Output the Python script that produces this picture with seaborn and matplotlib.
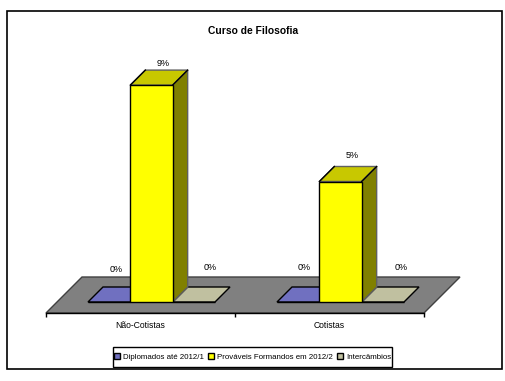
import pandas as pd
import seaborn as sns
import matplotlib
matplotlib.use('Agg')
import matplotlib.pyplot as plt
from matplotlib.patches import Polygon, Rectangle

categories = ['Não-Cotistas', 'Cotistas']
series_names = ['Diplomados até 2012/1', 'Prováveis Formandos em 2012/2', 'Intercâmbios']
diplomados = [0, 0]
provaveis = [9, 5]
intercambios = [0, 0]

W, H = 505, 381
plt.rcParams['font.family'] = ['Liberation Sans']

df = pd.DataFrame({
    'cat': categories * 3,
    'serie': [s for s in series_names for _ in categories],
    'val': diplomados + provaveis + intercambios,
})

front = ['#7070C0', '#FFFF00', '#C0C0A0']
tops = ['#7070C0', '#C8C800', '#C0C0A0']
side = '#808000'
back_edge = '#606060'

fig = plt.figure(figsize=(W / 100, H / 100), dpi=100)
# pixel box of the axes: floor front edge at y=313, top of plot at y=60
ax = fig.add_axes([46 / W, 1 - 313 / H, 378 / W, 253 / H])
sns.barplot(data=df, x='cat', y='val', hue='serie', order=categories, hue_order=series_names,
            palette=front, saturation=1, width=0.672, gap=0, edgecolor='black', linewidth=1,
            legend=False, zorder=3, ax=ax)

px_x = 1 / 189.0  # data units per pixel
px_y = 1 / 24.1
ax.set_xlim(-105.5 * px_x, 272.5 * px_x)
ax.set_ylim(-11 * px_y, 242 * px_y)
dx, dy = 15 * px_x, 15 * px_y

# 3d floor
x0, x1 = ax.get_xlim()
y0 = ax.get_ylim()[0]
fdx, fdy = 36 * px_x, 36 * px_y
ax.add_patch(Polygon([(x0, y0), (x1, y0), (x1 + fdx, y0 + fdy), (x0 + fdx, y0 + fdy)],
                     fc='#808080', ec='#404040', lw=1, zorder=0.5, clip_on=False))

# depth faces taken from the bars seaborn drew
bars = [p for p in ax.patches if isinstance(p, Rectangle)]
for i, b in enumerate(bars):
    sidx = i // 2
    xl, w, h = b.get_x(), b.get_width(), b.get_height()
    xr = xl + w
    z = 1 if h == 0 else 2
    edge = 'black' if h == 0 else back_edge
    ax.add_patch(Polygon([(xl, h), (xr, h), (xr + dx, h + dy), (xl + dx, h + dy)],
                         fc=tops[sidx], ec=edge, lw=1, zorder=z, clip_on=False))
    if h > 0:
        ax.add_patch(Polygon([(xr, 0), (xr, h), (xr + dx, h + dy), (xr + dx, dy)],
                             fc=side, ec=back_edge, lw=1, zorder=z, clip_on=False))
        # black front edges of the top face
        ax.plot([xl, xl + dx], [h, h + dy], color='black', lw=1, zorder=z + 0.1, clip_on=False)
        ax.plot([xr, xr + dx], [h, h + dy], color='black', lw=1, zorder=z + 0.1, clip_on=False)

# value labels, offsets in pixels from the top middle of each bar
label_dx = [7, 6.5, 12, 11.5, 16.5, 18]
label_dy = [32, 35, 22, 26, 35, 35]
for i, b in enumerate(bars):
    h = b.get_height()
    ax.annotate(f'{h:.0f}%', (b.get_x() + b.get_width() / 2, h),
                xytext=(label_dx[i], label_dy[i]),
                textcoords='offset pixels', ha='center', va='center', fontsize=6.5,
                annotation_clip=False, zorder=5)

# axis: ticks at the edges, labels between them
sns.despine(ax=ax, left=True, right=True, top=True)
ax.spines['bottom'].set_linewidth(1)
ax.patch.set_visible(False)
ax.set_xlabel('')
ax.set_ylabel('')
ax.set_yticks([])
mid = (x0 + x1) / 2
ax.set_xticks([x0, mid, x1])
ax.set_xticklabels([])
ax.set_xticks([(x0 + mid) / 2, (mid + x1) / 2], minor=True)
ax.set_xticklabels(categories, minor=True, fontsize=6.2)
ax.tick_params(axis='x', which='major', length=3, width=1)
ax.tick_params(axis='x', which='minor', length=0, pad=6)

fig.text(253 / W, 1 - 31 / H, 'Curso de Filosofia', ha='center', va='center', fontsize=7.4, fontweight='bold')

# legend, the frame is drawn apart so it can keep its height with the small font
handles = [Rectangle((0, 0), 1, 1, fc=c, ec='black', lw=1) for c in front]
leg = fig.legend(handles, series_names, loc='center', bbox_to_anchor=(252.5 / W, 1 - 357 / H),
                 ncol=3, fontsize=5.7, frameon=False,
                 handlelength=0.8, handleheight=0.8, handletextpad=0.35, columnspacing=0.5,
                 borderpad=0, borderaxespad=0)
fig.add_artist(Rectangle((113 / W, 1 - 367 / H), 279 / W, 20 / H, transform=fig.transFigure,
                         fill=False, ec='black', lw=1))

# outer frame
fig.add_artist(Rectangle((7 / W, 1 - 369 / H), 495 / W, 358 / H, transform=fig.transFigure,
                         fill=False, ec='black', lw=1.2))

plt.savefig('out.png', dpi=100)
